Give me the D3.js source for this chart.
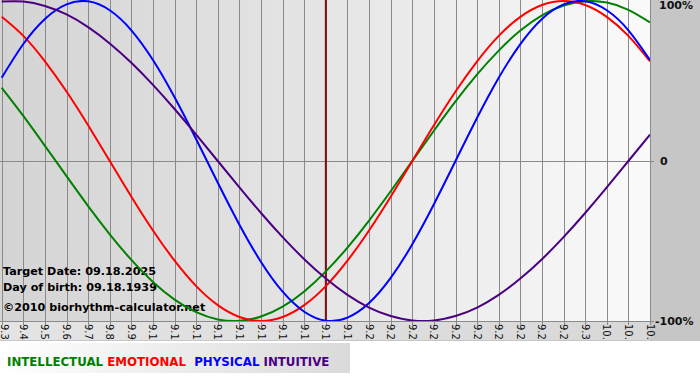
<!DOCTYPE html>
<html><head><meta charset="utf-8">
<script src="https://cdn.jsdelivr.net/npm/d3@7"></script>
<style>html,body{margin:0;padding:0;background:#fff;}svg{display:block;}</style>
</head><body>
<svg id="c" width="700" height="380"></svg>
<script>
const days = ["9.3","9.4","9.5","9.6","9.7","9.8","9.9","9.10","9.11","9.12","9.13","9.14","9.15","9.16","9.17","9.18","9.19","9.20","9.21","9.22","9.23","9.24","9.25","9.26","9.27","9.28","9.29","9.30","10.1","10.2","10.3"];
const intellectual = [0.458,0.282,0.095,-0.095,-0.282,-0.458,-0.618,-0.756,-0.866,-0.945,-0.990,-0.999,-0.972,-0.910,-0.815,-0.690,-0.541,-0.372,-0.189,0,0.189,0.372,0.541,0.690,0.815,0.910,0.972,0.999,0.990,0.945,0.866];
const emotional = [0.901,0.782,0.623,0.434,0.223,0,-0.223,-0.434,-0.623,-0.782,-0.901,-0.975,-1,-0.975,-0.901,-0.782,-0.623,-0.434,-0.223,0,0.223,0.434,0.623,0.782,0.901,0.975,1,0.975,0.901,0.782,0.623];
const physical = [0.520,0.731,0.888,0.979,0.998,0.942,0.817,0.631,0.398,0.136,-0.136,-0.398,-0.631,-0.817,-0.942,-0.998,-0.979,-0.888,-0.731,-0.520,-0.270,0,0.270,0.520,0.731,0.888,0.979,0.998,0.942,0.817,0.631];
const intuitive = [0.997,0.997,0.969,0.916,0.837,0.735,0.614,0.476,0.325,0.165,0,-0.165,-0.325,-0.476,-0.614,-0.735,-0.837,-0.916,-0.969,-0.997,-0.997,-0.969,-0.916,-0.837,-0.735,-0.614,-0.476,-0.325,-0.165,0,0.165];
const targetDay = "9.18";
const yTicks = [1, 0, -1];
const yTickLabels = ["100%", "0", "-100%"];
const infoLines = ["Target Date: 09.18.2025", "Day of birth: 09.18.1939", "\u00a92010 biorhythm-calculator.net"];
const legendNames = ["INTELLECTUAL", "EMOTIONAL", "PHYSICAL", "INTUITIVE"];
const seriesData = [intellectual, emotional, physical, intuitive];
const colors = ["#008000", "#ff0000", "#0000ff", "#4b0082"];

const svg = d3.select("#c");
const W = 700, H = 380;
const L = 1.7, R = 650, T = 1, B = 321;
const x = d3.scalePoint().domain(days).range([L, R]);
const y = d3.scaleLinear().domain([-1, 1]).range([B, T]);

const defs = svg.append("defs");
function grad(id, stops) {
  const g = defs.append("linearGradient").attr("id", id).attr("x1", "0%").attr("y1", "0%").attr("x2", "100%").attr("y2", "0%");
  stops.forEach(s => g.append("stop").attr("offset", s[0]).attr("stop-color", s[1]));
}
grad("gPlot", [["0%", "#d4d4d4"], ["50%", "#e5e5e5"], ["100%", "#fafafa"]]);
grad("gStrip", [["0%", "#e4e4e4"], ["100%", "#d8d8d8"]]);
grad("gLeg", [["0%", "#ffffff"], ["100%", "#dadada"]]);
defs.append("clipPath").attr("id", "clipPlot").append("rect").attr("x", 0).attr("y", 0).attr("width", R).attr("height", B);
defs.append("clipPath").attr("id", "clipStrip").append("rect").attr("x", 0).attr("y", B).attr("width", W).attr("height", 19);

// backgrounds
svg.append("rect").attr("x", 0).attr("y", 0).attr("width", W).attr("height", 341).attr("fill", "#c6c6c6");
svg.append("rect").attr("x", 0).attr("y", 0).attr("width", R).attr("height", B).attr("fill", "url(#gPlot)");
svg.append("rect").attr("x", 0).attr("y", B).attr("width", R).attr("height", 19).attr("fill", "url(#gStrip)");
svg.append("rect").attr("x", 0).attr("y", 341).attr("width", W).attr("height", 39).attr("fill", "#ffffff");
svg.append("rect").attr("x", 0).attr("y", 343).attr("width", 350).attr("height", 30).attr("fill", "url(#gLeg)");

// vertical grid
svg.append("g").selectAll("line").data(days).join("line")
  .attr("x1", d => Math.round(x(d)) + 0.5).attr("x2", d => Math.round(x(d)) + 0.5)
  .attr("y1", 0).attr("y2", B + 4)
  .attr("stroke", "#8a8a8a").attr("stroke-width", 1);
// horizontal lines
svg.append("line").attr("x1", 0).attr("x2", R + 4).attr("y1", Math.round(y(0)) + 0.5).attr("y2", Math.round(y(0)) + 0.5).attr("stroke", "#8a8a8a");
svg.append("line").attr("x1", 0).attr("x2", R + 4).attr("y1", B + 0.5).attr("y2", B + 0.5).attr("stroke", "#8a8a8a");

// x labels (rotated, clipped like the reference)
svg.append("g").attr("clip-path", "url(#clipStrip)").selectAll("text").data(days).join("text")
  .attr("transform", d => `translate(${Math.max(x(d), 4)},${B + 3}) rotate(90)`)
  .attr("dy", "0.35em")
  .attr("font-family", "Verdana, DejaVu Sans, sans-serif").attr("font-size", 10).attr("fill", "#111")
  .text(d => d);

// info text
const info = svg.append("g");
infoLines.forEach((t, i) => {
  info.append("text").attr("x", 3).attr("y", [275, 291, 311][i])
    .attr("font-family", "DejaVu Sans, Verdana, sans-serif").attr("font-weight", "bold")
    .attr("font-size", 11.2).attr("fill", "#000").text(t);
});

// target line
svg.append("line").attr("x1", x(targetDay)).attr("x2", x(targetDay)).attr("y1", 0).attr("y2", B)
  .attr("stroke", "#7a1010").attr("stroke-width", 2);

// curves
const line = d3.line().x((d, i) => x(days[i])).y(d => y(d)).curve(d3.curveNatural);
svg.append("g").attr("clip-path", "url(#clipPlot)").selectAll("path").data(seriesData).join("path")
  .attr("d", d => line(d)).attr("fill", "none")
  .attr("stroke", (d, i) => colors[i]).attr("stroke-width", 2);

// y labels
svg.append("g").selectAll("text").data(yTicks).join("text")
  .attr("x", (d, i) => [659, 660, 655][i]).attr("y", d => y(d))
  .attr("dy", (d, i) => ["0.75em", "0.4em", "0.4em"][i])
  .attr("font-family", "DejaVu Sans, Verdana, sans-serif").attr("font-weight", "bold")
  .attr("font-size", 11).attr("fill", "#111")
  .text((d, i) => yTickLabels[i]);

// legend
const leg = svg.append("text").attr("x", 7).attr("y", 366)
  .attr("font-family", "DejaVu Sans, Verdana, sans-serif").attr("font-weight", "bold").attr("font-size", 11.8);
legendNames.forEach((n, i) => {
  leg.append("tspan").attr("fill", colors[i]).text((i > 0 ? (i === 2 ? "\u00a0\u00a0" : "\u00a0") : "") + n);
});
</script>
</body></html>
